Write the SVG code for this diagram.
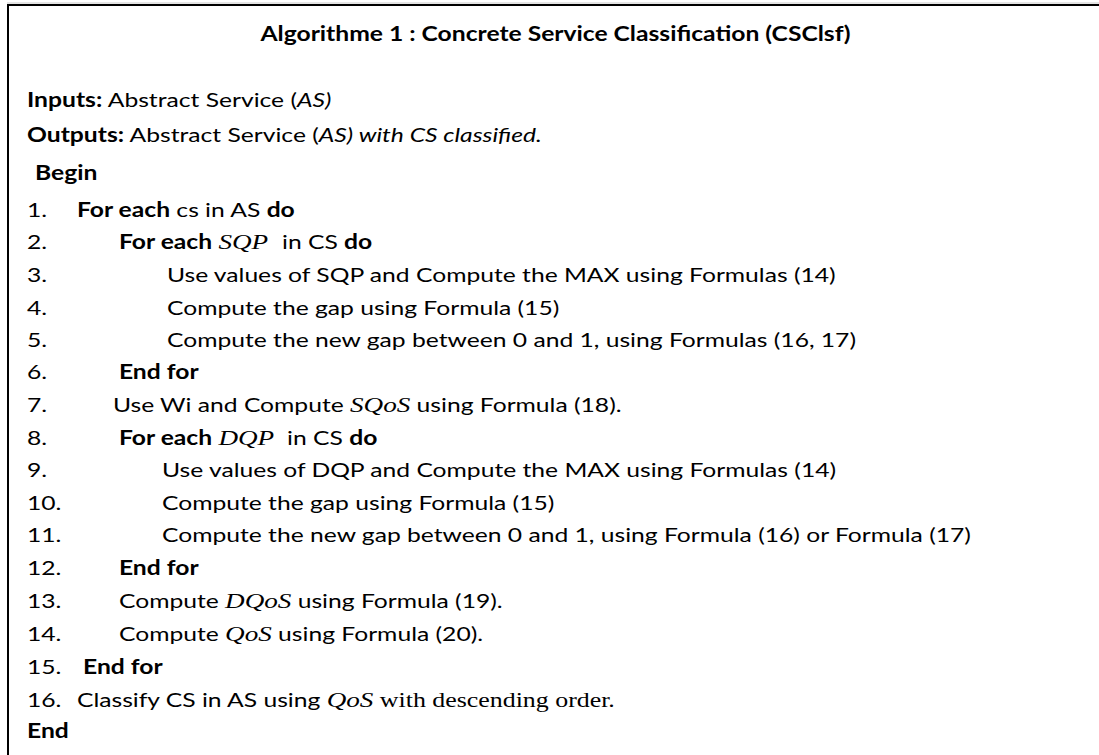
<svg xmlns="http://www.w3.org/2000/svg" width="1099" height="755" viewBox="0 0 1099 755">
<style>
text{font-family:Lato,"Liberation Sans",sans-serif;font-size:20px;fill:#000}
.b{font-weight:bold}
.i{font-style:italic}
.m{font-family:"Liberation Serif","DejaVu Serif",serif;font-style:italic;font-size:22px}
.t{font-family:"Liberation Serif","DejaVu Serif",serif;font-size:21px}
</style>
<rect width="1099" height="755" fill="#fff"/>
<g id="frame">
<line x1="7" y1="3" x2="1099" y2="3" stroke="#c8c8c8" stroke-width="1"/>
<line x1="7" y1="5" x2="1099" y2="5" stroke="#000" stroke-width="2"/>
<line x1="8" y1="4" x2="8" y2="755" stroke="#000" stroke-width="2"/>
</g>
<g id="content" transform="matrix(1.233,0,0,1,0,0)">
<g id="title"><text x="450.5" y="41" text-anchor="middle" class="b" font-size="21">Algorithme 1 : Concrete Service Classification (CSClsf)</text></g>
<g id="header">
<text x="21.9" y="107"><tspan class="b">Inputs:</tspan> Abstract Service (<tspan class="i">AS)</tspan></text>
<text x="21.9" y="142"><tspan class="b">Outputs:</tspan> Abstract Service (<tspan class="i">AS) with CS classified.</tspan></text>
<text x="28.4" y="180" class="b">Begin</text>
</g>
<g id="numbers">
<text x="21.9" y="217">1.</text>
<text x="21.9" y="249">2.</text>
<text x="21.9" y="282">3.</text>
<text x="21.9" y="315">4.</text>
<text x="21.9" y="347">5.</text>
<text x="21.9" y="379">6.</text>
<text x="21.9" y="412">7.</text>
<text x="21.9" y="445">8.</text>
<text x="21.9" y="477">9.</text>
<text x="21.9" y="510">10.</text>
<text x="21.9" y="542">11.</text>
<text x="21.9" y="575">12.</text>
<text x="21.9" y="608">13.</text>
<text x="21.9" y="641">14.</text>
<text x="21.9" y="674">15.</text>
<text x="21.9" y="707">16.</text>
<text x="21.9" y="738" class="b">End</text>
</g>
<g id="body">
<text x="62.4" y="217"><tspan class="b">For each</tspan> cs in AS <tspan class="b">do</tspan></text>
<text x="96.5" y="249"><tspan class="b">For each</tspan> <tspan class="m">SQP</tspan><tspan x="228.7">in CS </tspan><tspan class="b">do</tspan></text>
<text x="135.4" y="282">Use values of SQP and Compute the MAX using Formulas (14)</text>
<text x="135.4" y="315">Compute the gap using Formula (15)</text>
<text x="135.4" y="347">Compute the new gap between 0 and 1, using Formulas (16, 17)</text>
<text x="96.5" y="379" class="b">End for</text>
<text x="91.6" y="412">Use Wi and Compute <tspan class="m">SQoS</tspan> using Formula (18).</text>
<text x="96.5" y="445"><tspan class="b">For each</tspan> <tspan class="m">DQP</tspan><tspan x="232.8">in CS </tspan><tspan class="b">do</tspan></text>
<text x="131.4" y="477">Use values of DQP and Compute the MAX using Formulas (14)</text>
<text x="131.4" y="510">Compute the gap using Formula (15)</text>
<text x="131.4" y="542">Compute the new gap between 0 and 1, using Formula (16) or Formula (17)</text>
<text x="96.5" y="575" class="b">End for</text>
<text x="96.5" y="608">Compute <tspan class="m">DQoS</tspan> using Formula (19).</text>
<text x="96.5" y="641">Compute <tspan class="m">QoS</tspan> using Formula (20).</text>
<text x="67.3" y="674" class="b">End for</text>
<text x="62.4" y="707">Classify CS in AS using <tspan class="m">QoS</tspan><tspan class="t"> with descending order.</tspan></text>
</g>
</g>
</svg>
